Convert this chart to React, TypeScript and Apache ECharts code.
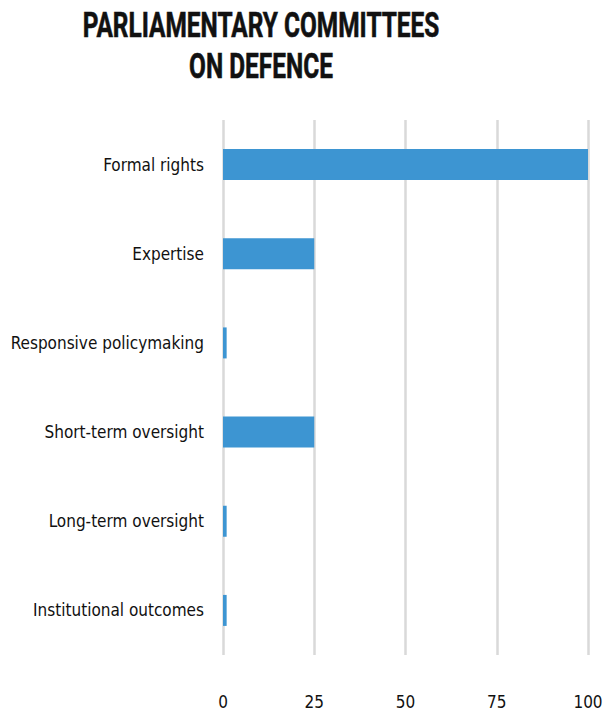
import React, { useEffect, useRef } from "react";
import * as echarts from "echarts";

const titleLines = ["PARLIAMENTARY COMMITTEES", "ON DEFENCE"];
const categories = [
  "Formal rights",
  "Expertise",
  "Responsive policymaking",
  "Short-term oversight",
  "Long-term oversight",
  "Institutional outcomes",
];
const scores = [100, 25, 1, 25, 1, 1];
const xTicks = { min: 0, max: 100, interval: 25 };

const FONT = "'DejaVu Sans Condensed', 'Liberation Sans Narrow', 'Roboto', sans-serif";
const TITLE_FONT = "bold 35px Roboto, 'Liberation Sans', sans-serif";
const TITLE_WIDTH = 357;

// Horizontal squeeze that turns Roboto Bold into a condensed heading.
function titleScale(): number {
  const ctx = document.createElement("canvas").getContext("2d");
  if (!ctx) return 0.7;
  ctx.font = TITLE_FONT;
  const w = ctx.measureText(titleLines[0]).width;
  return w > 0 ? TITLE_WIDTH / w : 0.7;
}

export default function App() {
  const ref = useRef<HTMLDivElement>(null);

  useEffect(() => {
    document.body.style.margin = "0";
    const chart = echarts.init(ref.current!, undefined, { renderer: "svg" });
    const sx = titleScale();
    chart.setOption({
      animation: false,
      backgroundColor: "#ffffff",
      graphic: titleLines.map((line, i) => ({
        type: "text",
        x: 261,
        y: 25 + i * 41,
        scaleX: sx,
        style: {
          text: line,
          font: TITLE_FONT,
          fill: "#111111",
          stroke: "#111111",
          lineWidth: 0.6,
          textAlign: "center",
          textVerticalAlign: "middle",
        },
      })),
      grid: { left: 223, right: 24, top: 120, bottom: 56, containLabel: false },
      xAxis: {
        type: "value",
        min: xTicks.min,
        max: xTicks.max,
        interval: xTicks.interval,
        axisLine: { show: false },
        axisTick: { show: false },
        splitLine: { show: true, lineStyle: { color: "#d9d9d9", width: 2.5 } },
        axisLabel: {
          margin: 38,
          fontFamily: FONT,
          fontSize: 17,
          color: "#111111",
        },
      },
      yAxis: {
        type: "category",
        inverse: true,
        data: categories,
        axisLine: { show: false },
        axisTick: { show: false },
        splitLine: { show: false },
        axisLabel: {
          margin: 19,
          fontFamily: FONT,
          fontSize: 17,
          color: "#111111",
        },
      },
      series: [
        {
          type: "bar",
          data: scores,
          barWidth: 31,
          itemStyle: { color: "#3d95d2" },
        },
      ],
    });
    return () => chart.dispose();
  }, []);

  return <div ref={ref} style={{ width: 612, height: 711 }} />;
}
